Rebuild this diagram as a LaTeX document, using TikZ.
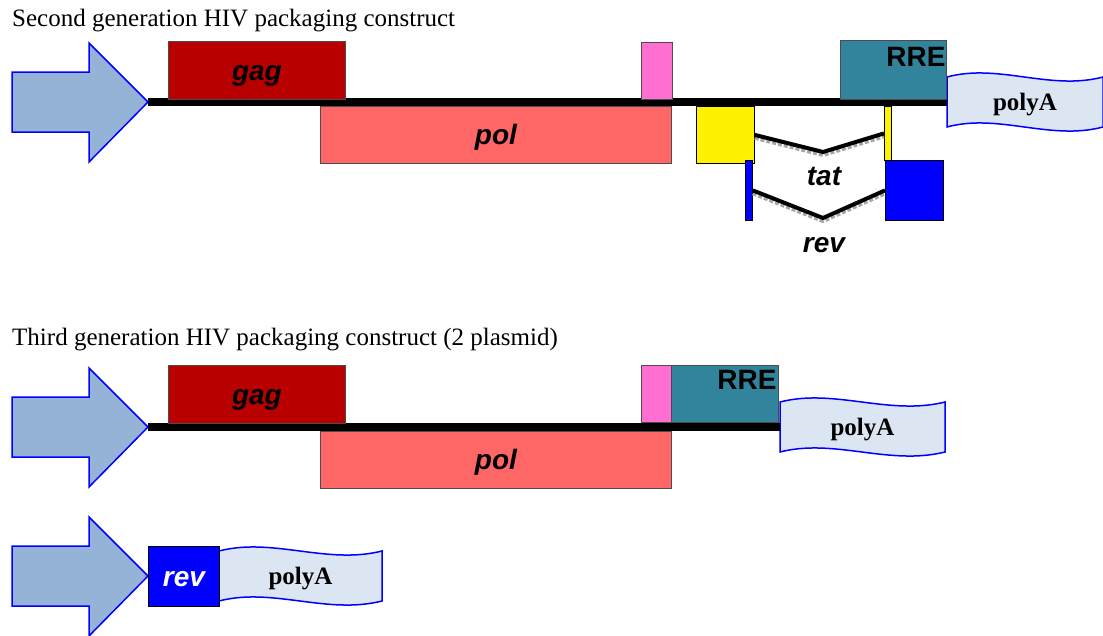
\documentclass[tikz,border=0pt]{standalone}
\usepackage{fontspec}
\setmainfont{Liberation Serif}
\setsansfont{Liberation Sans}
\usetikzlibrary{positioning}

\definecolor{promfill}{RGB}{149,179,215}
\definecolor{gagred}{RGB}{184,0,0}
\definecolor{polred}{RGB}{255,102,102}
\definecolor{psipink}{RGB}{255,110,208}
\definecolor{rreteal}{RGB}{49,132,155}
\definecolor{polyfill}{RGB}{220,230,242}

% wavy polyA signal: name, left x, centre y, width
\newcommand{\polyA}[4]{%
  \coordinate (#1-in) at (#2,#3);
  \draw[polyline] (#2,#3-25) .. controls (#2+0.33*#4,#3-39) and (#2+0.66*#4,#3-11) .. (#2+#4,#3-25)
    -- (#2+#4,#3+25) .. controls (#2+0.66*#4,#3+39) and (#2+0.33*#4,#3+11) .. (#2,#3+25) -- cycle;
  \node[polytext] (#1) at (#2+0.5*#4,#3+3) {polyA};}

\begin{document}
\begin{tikzpicture}[x=1pt,y=-1pt,
  genebox/.style={draw=black!70,line width=0.8pt,inner sep=0pt,anchor=north west,
    font=\sffamily\bfseries\itshape\fontsize{28}{30}\selectfont,text height=22pt,text depth=2pt},
  genelabel/.style={inner sep=0pt,font=\sffamily\bfseries\itshape\fontsize{28}{30}\selectfont},
  rrelabel/.style={inner sep=0pt,anchor=north east,font=\sffamily\bfseries\fontsize{28}{30}\selectfont},
  heading/.style={anchor=base west,inner sep=0pt,font=\fontsize{25}{28}\selectfont},
  promoter/.style={draw=blue,fill=promfill,line width=1.5pt},
  backbone/.style={line width=8pt},
  polyline/.style={draw=blue,fill=polyfill,line width=1.5pt},
  polytext/.style={inner sep=0pt,font=\bfseries\fontsize{25}{28}\selectfont},
  splice/.style={line width=4pt},
  spliceshadow/.style={draw=black!35,line width=4pt,dotted,transform canvas={yshift=-3pt}}]
\useasboundingbox (0,0) rectangle (1103,635);

% promoters
\foreach \y/\n in {102/1,427/2,576/3}{
  \coordinate (prom\n) at (148,\y);
  \draw[promoter] (prom\n) -- ++(-59,-59) -- ++(0,29) -- ++(-77,0) -- ++(0,60)
    -- ++(77,0) -- ++(0,30) -- cycle;
}

%%% second generation
\node[heading] (title1) at (12,26) {Second generation HIV packaging construct};
\polyA{pA1}{947}{102}{156}
\draw[backbone] (prom1) -- (pA1-in);
\node[genebox,fill=gagred,minimum width=177,minimum height=58] (gag1) at (168,41) {gag};
\node[genebox,fill=polred,minimum width=351,minimum height=57] (pol1) at (320,106) {pol};
\node[genebox,fill=psipink,minimum width=31,minimum height=57] (psi1) at (641,42) {};
\node[genebox,fill=rreteal,minimum width=106,minimum height=59] (rre1) at (840,40) {};
\node[rrelabel,xshift=-1pt,yshift=-7pt] (rre1t) at (rre1.north east) {RRE};
% tat and rev exons
\node[genebox,draw=black,fill=yellow,minimum width=58,minimum height=57] (tatA) at (696,106) {};
\node[genebox,draw=black,fill=yellow,minimum width=7,minimum height=54] (tatB) at (884,106) {};
\node[genebox,draw=black,fill=blue,minimum width=7,minimum height=60] (revA) at (745,160) {};
\node[genebox,draw=black,fill=blue,minimum width=58,minimum height=60] (revB) at (885,160) {};
\coordinate (tatV) at (823,152);
\coordinate (revV) at (823,218);
\draw[spliceshadow] (tatA.east) -- (tatV) -- (tatB.west);
\draw[spliceshadow] (revA.east) -- (revV) -- (revB.west);
\draw[splice] (tatA.east) -- (tatV) -- (tatB.west);
\draw[splice] (revA.east) -- (revV) -- (revB.west);
\node[genelabel] (tat) at (824,176) {tat};
\node[genelabel] (rev) at (824,245) {rev};

%%% third generation
\node[heading] (title2) at (12,345) {Third generation HIV packaging construct (2 plasmid)};
\polyA{pA2}{780}{427}{165}
\draw[backbone] (prom2) -- (pA2-in);
\node[genebox,fill=gagred,minimum width=177,minimum height=58] (gag2) at (168,365) {gag};
\node[genebox,fill=polred,minimum width=351,minimum height=57] (pol2) at (320,431) {pol};
\node[genebox,fill=psipink,minimum width=30,minimum height=57] (psi2) at (641,365) {};
\node[genebox,fill=rreteal,minimum width=107,minimum height=57] (rre2) at (671,365) {};
\node[rrelabel,xshift=-2pt,yshift=-5pt] (rre2t) at (rre2.north east) {RRE};

% rev plasmid
\polyA{pA3}{219}{576}{163}
\node[genebox,draw=black,fill=blue,text=white,minimum width=71,minimum height=60] (rev3) at (148,546) {rev};
\end{tikzpicture}
\end{document}
